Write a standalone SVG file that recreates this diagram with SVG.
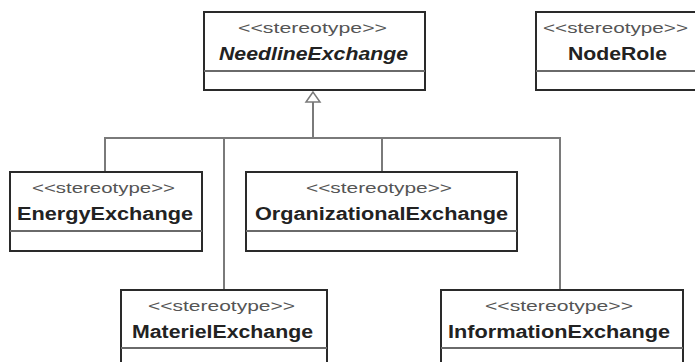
<svg xmlns="http://www.w3.org/2000/svg" width="695" height="362" viewBox="0 0 695 362">
<style>
.box{fill:#fff;stroke:#2a2a2a;stroke-width:2}
.div{stroke:#6a6a6a;stroke-width:2}
.st{font-family:"Liberation Sans",Arial,sans-serif;font-size:15px;fill:#555;text-anchor:start}
.nm{font-family:"Liberation Sans",Arial,sans-serif;font-size:18px;font-weight:bold;fill:#222;text-anchor:start}
.conn{fill:none;stroke:#7a7a7a;stroke-width:2}
</style>
<rect width="695" height="362" fill="#fff"/>
<g id="connectors">
<polyline class="conn" points="313,102 313,138"/>
<polygon points="313,92 306,102 320,102" fill="#fff" stroke="#7a7a7a" stroke-width="1.5"/>
<polyline class="conn" points="105,172 105,138 560,138 560,290"/>
<line class="conn" x1="224" y1="138" x2="224" y2="290"/>
<line class="conn" x1="382" y1="138" x2="382" y2="172"/>
</g>
<g id="NeedlineExchange">
<rect class="box" x="204" y="12" width="221" height="78"/>
<line class="div" x1="204" y1="71" x2="425" y2="71"/>
<text class="st" x="238" y="33" textLength="149" lengthAdjust="spacingAndGlyphs">&lt;&lt;stereotype&gt;&gt;</text>
<text class="nm" x="219" y="60" font-style="italic" textLength="189" lengthAdjust="spacingAndGlyphs">NeedlineExchange</text>
</g>
<g id="NodeRole">
<rect class="box" x="536" y="12" width="165" height="78"/>
<line class="div" x1="536" y1="71" x2="701" y2="71"/>
<text class="st" x="543" y="33" textLength="145" lengthAdjust="spacingAndGlyphs">&lt;&lt;stereotype&gt;&gt;</text>
<text class="nm" x="568" y="60" textLength="99" lengthAdjust="spacingAndGlyphs">NodeRole</text>
</g>
<g id="EnergyExchange">
<rect class="box" x="10" y="172" width="192" height="79"/>
<line class="div" x1="10" y1="231" x2="202" y2="231"/>
<text class="st" x="32" y="193" textLength="143" lengthAdjust="spacingAndGlyphs">&lt;&lt;stereotype&gt;&gt;</text>
<text class="nm" x="17" y="220" textLength="176" lengthAdjust="spacingAndGlyphs">EnergyExchange</text>
</g>
<g id="OrganizationalExchange">
<rect class="box" x="246" y="172" width="271" height="79"/>
<line class="div" x1="246" y1="231" x2="517" y2="231"/>
<text class="st" x="306" y="193" textLength="146" lengthAdjust="spacingAndGlyphs">&lt;&lt;stereotype&gt;&gt;</text>
<text class="nm" x="255" y="220" textLength="253" lengthAdjust="spacingAndGlyphs">OrganizationalExchange</text>
</g>
<g id="MaterielExchange">
<rect class="box" x="121" y="290" width="206" height="85"/>
<line class="div" x1="121" y1="348" x2="327" y2="348"/>
<text class="st" x="148" y="311" textLength="147" lengthAdjust="spacingAndGlyphs">&lt;&lt;stereotype&gt;&gt;</text>
<text class="nm" x="132" y="338" textLength="181" lengthAdjust="spacingAndGlyphs">MaterielExchange</text>
</g>
<g id="InformationExchange">
<rect class="box" x="441" y="290" width="242" height="85"/>
<line class="div" x1="441" y1="348" x2="683" y2="348"/>
<text class="st" x="485" y="311" textLength="148" lengthAdjust="spacingAndGlyphs">&lt;&lt;stereotype&gt;&gt;</text>
<text class="nm" x="448" y="338" textLength="222" lengthAdjust="spacingAndGlyphs">InformationExchange</text>
</g>
</svg>
